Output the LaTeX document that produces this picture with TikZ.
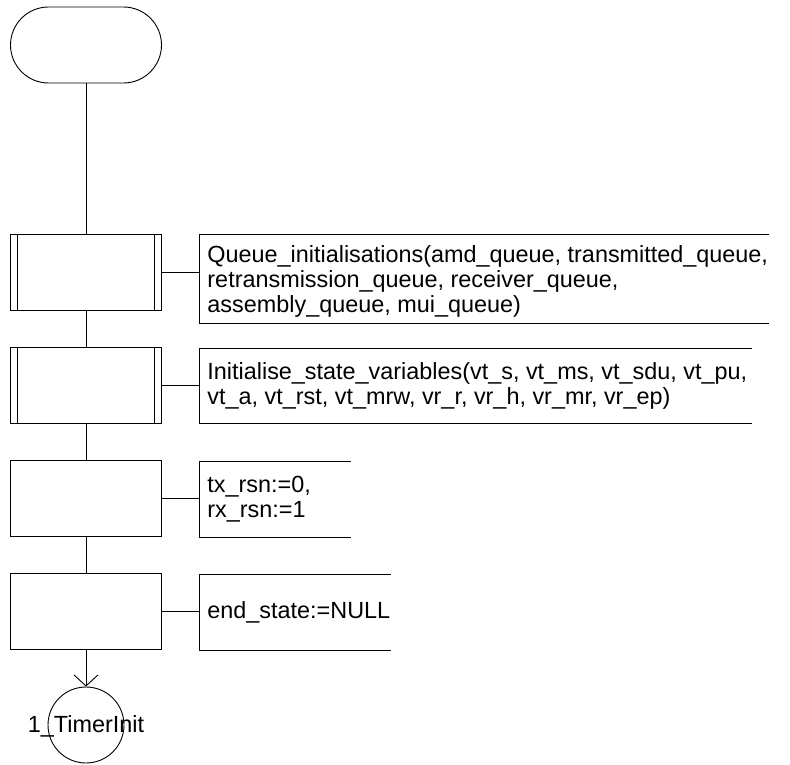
\documentclass[tikz,border=0pt]{standalone}
\usepackage{fontspec}
\setmainfont{Liberation Sans}
\usetikzlibrary{arrows.meta}
\begin{document}
\begin{tikzpicture}[x=1pt, y=-1pt, line width=0.9pt,
  sdl/.style={font=\fontsize{23.4}{25}\selectfont},
  startsym/.style={draw, rectangle, rounded corners=38pt, minimum width=151pt, minimum height=76pt, inner sep=0pt},
  taskbox/.style={draw, rectangle, minimum width=151pt, minimum height=76pt, inner sep=0pt},
  procbox/.style={taskbox,
    path picture={
      \draw ([xshift=6.5pt]path picture bounding box.north west) -- ([xshift=6.5pt]path picture bounding box.south west);
      \draw ([xshift=-7.5pt]path picture bounding box.north east) -- ([xshift=-7.5pt]path picture bounding box.south east);
    }},
  frame/.style={rectangle, inner sep=0pt, anchor=north west},
  note/.style={sdl, anchor=west, align=left, inner sep=0pt, xshift=8pt},
  connsym/.style={draw, circle, minimum size=76pt, inner sep=0pt},
  flow/.style={draw},
  arrowtip/.style={-{Straight Barb[length=11pt, width=24pt]}}
]
\useasboundingbox (0,0) rectangle (790,765);

% flow symbols
\node[startsym] (start) at (86,45) {};
\node[procbox]  (p1) at (86,272) {};
\node[procbox]  (p2) at (86,385.5) {};
\node[taskbox]  (p3) at (86,498.5) {};
\node[taskbox]  (p4) at (86,611.5) {};
\node[connsym, label={[sdl, yshift=-1pt]center:1\_TimerInit}] (next) at (86,725) {};

% comment frames, open on the right
\node[frame, minimum width=569pt, minimum height=89pt] (c1) at (199,234) {};
\node[frame, minimum width=552pt, minimum height=75pt] (c2) at (199,348) {};
\node[frame, minimum width=151pt, minimum height=76pt] (c3) at (199,461) {};
\node[frame, minimum width=191pt, minimum height=76pt] (c4) at (199,574) {};
\foreach \c in {c1,c2,c3,c4}
  \draw (\c.north east) -- (\c.north west) -- (\c.south west) -- (\c.south east);

% comment texts
\node[note, yshift=-2pt] (t1) at (c1.west) {Queue\_initialisations(amd\_queue, transmitted\_queue,\\retransmission\_queue, receiver\_queue,\\assembly\_queue, mui\_queue)};
\node[note] (t2) at (c2.west) {Initialise\_state\_variables(vt\_s, vt\_ms, vt\_sdu, vt\_pu,\\vt\_a, vt\_rst, vt\_mrw, vr\_r, vr\_h, vr\_mr, vr\_ep)};
\node[note] (t3) at (c3.west) {tx\_rsn:=0,\\rx\_rsn:=1};
\node[note] (t4) at (c4.west) {end\_state:=NULL};

% flow lines
\draw[flow] (start.south) -- (p1.north);
\draw[flow] (p1.south) -- (p2.north);
\draw[flow] (p2.south) -- (p3.north);
\draw[flow] (p3.south) -- (p4.north);
\draw[flow, arrowtip] (p4.south) -- (next.north);

% links to comments
\draw (p1.east) -- (p1.east -| c1.west);
\draw (p2.east) -- (p2.east -| c2.west);
\draw (p3.east) -- (p3.east -| c3.west);
\draw (p4.east) -- (p4.east -| c4.west);
\end{tikzpicture}
\end{document}
